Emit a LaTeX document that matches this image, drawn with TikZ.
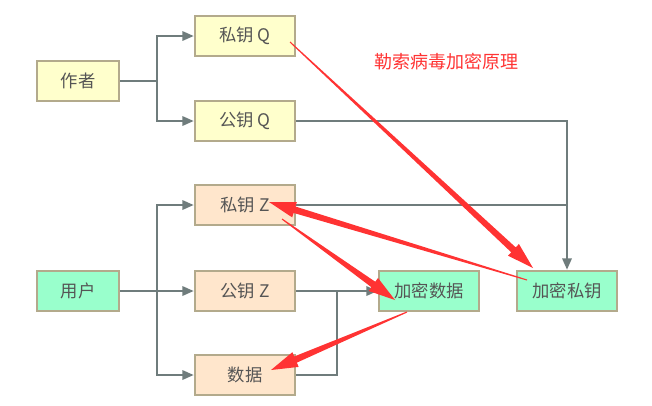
\documentclass[tikz,border=0pt]{standalone}
\usepackage{fontspec}
\setmainfont{Noto Sans CJK SC}
\usetikzlibrary{arrows.meta,calc}
\definecolor{yelfill}{HTML}{FFFFCC}
\definecolor{orafill}{HTML}{FFE6CC}
\definecolor{grnfill}{HTML}{99FFCC}
\definecolor{boxline}{HTML}{B3AA8C}
\definecolor{connline}{HTML}{6F7C7C}
\definecolor{keyred}{HTML}{FF3333}
\definecolor{txtgray}{HTML}{555555}
% tapered red arrow from #1 to #2
\newcommand{\redarrow}[2]{%
  \coordinate (hb) at ($(#2)!20pt!(#1)$);
  \fill[keyred] ($(#1)!0.4pt!90:(#2)$) -- ($(hb)!2.5pt!90:(#2)$)
    -- ($(hb)!6pt!90:(#2)$) -- (#2) -- ($(hb)!6pt!-90:(#2)$)
    -- ($(hb)!2.5pt!-90:(#2)$) -- ($(#1)!0.4pt!-90:(#2)$) -- cycle;}
\begin{document}
\begin{tikzpicture}[x=0.75pt, y=-0.75pt,
  box/.style={draw=boxline, line width=1.4pt, minimum height=30.5pt,
    text=txtgray, font=\fontsize{13}{15}\selectfont, inner sep=0pt},
  keybox/.style={box, minimum width=75.5pt},
  rolebox/.style={box, minimum width=62pt},
  conn/.style={draw=connline, line width=1.6pt},
  arr/.style={conn, -{Triangle[length=8.5pt,width=7pt]}}]
  \useasboundingbox (0,0) rectangle (652,405);
  % author side
  \node[rolebox, fill=yelfill] (zuozhe) at (78,81) {作者};
  \node[keybox, fill=yelfill] (siQ) at (245,36) {私钥 Q};
  \node[keybox, fill=yelfill] (gongQ) at (245,121) {公钥 Q};
  % user side
  \node[rolebox, fill=grnfill] (yonghu) at (78,291) {用户};
  \node[keybox, fill=orafill] (siZ) at (245,205) {私钥 Z};
  \node[keybox, fill=orafill] (gongZ) at (245,291) {公钥 Z};
  \node[keybox, fill=orafill] (shuju) at (245,375) {数据};
  % results
  \node[keybox, fill=grnfill] (jmsj) at (429,291) {加密数据};
  \node[keybox, fill=grnfill] (jmsy) at (567,291) {加密私钥};
  \node[text=keyred, font=\fontsize{13.5}{15}\selectfont] (title) at (446,62) {勒索病毒加密原理};
  \coordinate (zj) at (157,81);
  \coordinate (yj) at (157,291);
  \coordinate (dj) at (337,291);
  \draw[conn] (zuozhe) -- (zj);
  \draw[arr] (zj) |- (siQ);
  \draw[arr] (zj) |- (gongQ);
  \draw[conn] (yonghu) -- (yj);
  \draw[arr] (yj) |- (siZ);
  \draw[arr] (yj) -- (gongZ);
  \draw[arr] (yj) |- (shuju);
  \draw[arr] (gongQ) -| (jmsy);
  \draw[conn] (siZ.east) -- (siZ.east -| jmsy);
  \draw[arr] (gongZ) -- (jmsj);
  \draw[conn] (shuju) -| (dj);
  % red arrows
  \coordinate (r1a) at (290,42);
  \coordinate (r1b) at (533,268);
  \coordinate (r2a) at (527,280);
  \coordinate (r2b) at (269,202);
  \coordinate (r3a) at (282,219);
  \coordinate (r3b) at (395,300);
  \coordinate (r4a) at (407,312);
  \coordinate (r4b) at (271,370);
  \redarrow{r1a}{r1b}
  \redarrow{r2a}{r2b}
  \redarrow{r3a}{r3b}
  \redarrow{r4a}{r4b}
\end{tikzpicture}
\end{document}
